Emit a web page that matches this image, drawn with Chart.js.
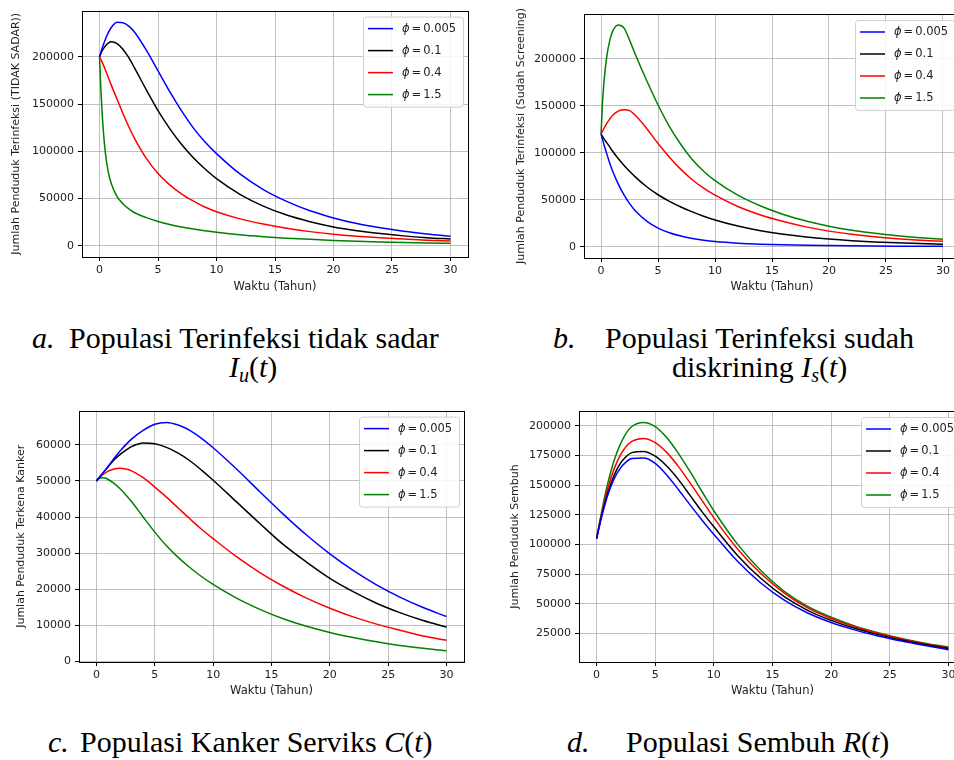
<!DOCTYPE html>
<html>
<head>
<meta charset="utf-8">
<script src="https://cdn.jsdelivr.net/npm/chart.js@4.4.1/dist/chart.umd.min.js"></script>
<style>
  body { margin: 0; width: 954px; height: 760px; overflow: hidden; background: #fff; position: relative; }
  canvas { position: absolute; }
  .cap { position: absolute; font-family: 'Liberation Serif', serif; font-size: 30px; line-height: 1; color: #000; white-space: nowrap; }
  .cap sub { font-size: 20px; vertical-align: -0.25em; line-height: 0; }
</style>
</head>
<body>
<canvas id="pa" width="480" height="300" style="left:0;top:0"></canvas>
<canvas id="pb" width="500" height="300" style="left:477px;top:0"></canvas>
<canvas id="pc" width="480" height="300" style="left:0;top:400px"></canvas>
<canvas id="pd" width="500" height="300" style="left:477px;top:400px"></canvas>

<div class="cap" style="left:32px;top:323px"><i>a.</i></div>
<div class="cap" style="left:69px;top:323px">Populasi Terinfeksi tidak sadar</div>
<div class="cap" style="left:229px;top:352px"><i>I<sub>u</sub></i>(<i>t</i>)</div>
<div class="cap" style="left:553px;top:323px"><i>b.</i></div>
<div class="cap" style="left:605px;top:323px">Populasi Terinfeksi sudah</div>
<div class="cap" style="left:672px;top:352px">diskrining <i>I<sub>s</sub></i>(<i>t</i>)</div>
<div class="cap" style="left:48px;top:727px"><i>c.</i></div>
<div class="cap" style="left:80px;top:727px">Populasi Kanker Serviks <i>C</i>(<i>t</i>)</div>
<div class="cap" style="left:567px;top:727px"><i>d.</i></div>
<div class="cap" style="left:626px;top:727px">Populasi Sembuh <i>R</i>(<i>t</i>)</div>

<script>
// waktu (tahun)
const T = [0, 0.1, 0.25, 0.5, 0.75, 1, 1.5, 2, 2.5, 3, 4, 5, 6, 7, 8, 9, 10, 12, 14, 16, 18, 20, 22, 24, 26, 28, 30];
const phiLabels = ['0.005', '0.1', '0.4', '1.5'];
const colors = ['#0000ff', '#000000', '#ff0000', '#008000'];

// a. Iu(t)
const Iu_0005 = [200000, 204000, 210000, 218500, 225500, 231000, 236500, 236000, 232500, 226000, 207000, 185000, 163000, 143000, 125000, 110000, 97500, 76000, 59500, 47000, 37000, 29500, 23500, 19000, 15300, 12400, 10000];
const Iu_01 = [200000, 203000, 207000, 211500, 214500, 215800, 214000, 208000, 199000, 188000, 165000, 143000, 124000, 107500, 93500, 81500, 71000, 54500, 42000, 32500, 25500, 20000, 16000, 13000, 10500, 8600, 7200];
const Iu_04 = [200000, 197500, 193500, 186000, 178000, 170000, 155000, 140000, 126000, 113500, 92500, 76500, 64500, 55000, 47500, 41000, 36000, 28500, 23000, 18500, 15000, 12300, 10200, 8500, 7200, 6000, 5000];
const Iu_15 = [200000, 170000, 135000, 98000, 78000, 66000, 52000, 44500, 39000, 35000, 29800, 25800, 22600, 20000, 17800, 16000, 14400, 11700, 9700, 8100, 6800, 5700, 4800, 4100, 3500, 3000, 2600];

// b. Is(t)
const Is_0005 = [120000, 115500, 109000, 99000, 89500, 81000, 67000, 55500, 46000, 38500, 27500, 20000, 15000, 11500, 9000, 7200, 5800, 4000, 2900, 2200, 1700, 1400, 1150, 950, 800, 680, 580];
const Is_01 = [120000, 118000, 115000, 111000, 106500, 102000, 94000, 87000, 80500, 74500, 64000, 55500, 48500, 42500, 37300, 32700, 28700, 22200, 17200, 13400, 10500, 8300, 6600, 5300, 4300, 3500, 2900];
const Is_04 = [120000, 122500, 126000, 131500, 136000, 139800, 144500, 146000, 145000, 140000, 126000, 110000, 95500, 82500, 71500, 62500, 55000, 43000, 34000, 27000, 21300, 16800, 13400, 10800, 8800, 7200, 6000];
const Is_15 = [120000, 148000, 175000, 203000, 219000, 229000, 236000, 233000, 220000, 205000, 177000, 151000, 128000, 109000, 93000, 80500, 70500, 55000, 43500, 34500, 27500, 22000, 17800, 14500, 11900, 9800, 8100];

// c. C(t)
const C_0005 = [50000, 50400, 51000, 52000, 53000, 54000, 56200, 58200, 60000, 61600, 64000, 65700, 66200, 65500, 64000, 61800, 59200, 53300, 47000, 40800, 35000, 29800, 25200, 21200, 17800, 14900, 12400];
const C_01 = [50000, 50400, 51000, 52000, 53000, 54000, 55800, 57300, 58500, 59500, 60500, 60300, 59300, 57700, 55600, 53000, 50200, 44200, 38200, 32400, 27500, 23000, 19300, 16100, 13500, 11300, 9500];
const C_04 = [50000, 50350, 50900, 51600, 52200, 52700, 53300, 53500, 53300, 52800, 50900, 48300, 45500, 42500, 39500, 36600, 34000, 29000, 24600, 20800, 17500, 14700, 12300, 10300, 8600, 7000, 5800];
const C_15 = [50000, 50350, 50700, 50900, 50800, 50400, 49300, 47900, 46200, 44300, 40000, 35800, 32000, 28800, 26000, 23500, 21300, 17500, 14400, 11800, 9700, 8000, 6600, 5400, 4400, 3600, 2900];

// d. R(t)
const R_0005 = [105000, 109500, 116000, 126000, 135000, 143000, 155500, 164000, 169500, 172500, 173000, 168500, 158500, 146000, 133000, 120500, 108500, 86000, 67500, 53000, 42200, 34200, 28000, 22900, 18600, 14800, 11300];
const R_01 = [105000, 109700, 116500, 127000, 136500, 145000, 158500, 168000, 174000, 177500, 178500, 174500, 166000, 154500, 141000, 127500, 115000, 91000, 71500, 56000, 44500, 36000, 29400, 24000, 19500, 15600, 12200];
const R_04 = [105000, 110000, 117500, 129000, 139500, 149000, 164000, 175000, 182500, 187000, 189500, 186000, 177500, 165500, 151500, 137000, 122500, 96500, 75500, 59000, 46500, 37600, 30600, 25000, 20300, 16300, 12900];
const R_15 = [105000, 110500, 118500, 131000, 143000, 153500, 171000, 184000, 193500, 199500, 203000, 199500, 190000, 176500, 161000, 144500, 128500, 100500, 78000, 60500, 47700, 38600, 31400, 25600, 20800, 16800, 13500];

const xTicks = [0, 5, 10, 15, 20, 25, 30];
const yTicksA = [0, 50000, 100000, 150000, 200000];
const yTicksB = [0, 50000, 100000, 150000, 200000];
const yTicksC = [0, 10000, 20000, 30000, 40000, 50000, 60000];
const yTicksD = [25000, 50000, 75000, 100000, 125000, 150000, 175000, 200000];

const FONT = 'DejaVu Sans';

// kotak hitam di sekeliling area plot + legenda gaya matplotlib
const framePlugin = {
  id: 'frame',
  afterDraw(chart) {
    const {ctx, chartArea: a} = chart;
    ctx.save();
    ctx.strokeStyle = '#000';
    ctx.lineWidth = 1;
    ctx.strokeRect(Math.round(a.left) + 0.5, Math.round(a.top) + 0.5, Math.round(a.right - a.left), Math.round(a.bottom - a.top));

    // legend
    const bw = 100, bh = 90;
    const bx = a.right - 5 - bw, by = a.top + 6;
    ctx.fillStyle = 'rgba(255,255,255,0.85)';
    ctx.strokeStyle = '#d0d0d0';
    ctx.beginPath();
    ctx.roundRect(bx + 0.5, by + 0.5, bw, bh, 3);
    ctx.fill();
    ctx.stroke();
    chart.data.datasets.forEach((ds, i) => {
      const y = by + 12 + i * 22;
      ctx.strokeStyle = ds.borderColor;
      ctx.lineWidth = 1.5;
      ctx.beginPath();
      ctx.moveTo(bx + 5, y);
      ctx.lineTo(bx + 30, y);
      ctx.stroke();
      ctx.fillStyle = '#222';
      ctx.textBaseline = 'middle';
      ctx.font = 'italic 11.5px "' + FONT + '"';
      let x = bx + 39;
      ctx.fillText('\u03d5', x, y);
      x += ctx.measureText('\u03d5').width + 2;
      ctx.font = '11.5px "' + FONT + '"';
      ctx.fillText('=', x, y);
      x += ctx.measureText('=').width + 2;
      ctx.fillText(ds.phi, x, y);
    });
    ctx.restore();
  }
};

function makeChart(id, series, yTicks, yMin, yMax, yTitle, box) {
  const datasets = series.map((arr, i) => ({
    label: '\u03d5=' + phiLabels[i],
    phi: phiLabels[i],
    data: T.map((t, k) => ({x: t, y: arr[k]})),
    borderColor: colors[i],
    borderWidth: 1.5,
    pointRadius: 0,
    fill: false,
    cubicInterpolationMode: 'monotone'
  }));
  const tickFont = {family: FONT, size: 11};
  new Chart(document.getElementById(id), {
    type: 'line',
    data: {datasets},
    plugins: [framePlugin],
    options: {
      responsive: false,
      animation: false,
      devicePixelRatio: 1,
      layout: {padding: {left: 0, top: box.top, right: box.right, bottom: 0}},
      plugins: {legend: {display: false}, tooltip: {enabled: false}},
      scales: {
        x: {
          type: 'linear', min: -1.5, max: 31.5,
          afterBuildTicks: s => { s.ticks = xTicks.map(v => ({value: v})); },
          afterFit: s => { s.height = box.xh; },
          ticks: {font: tickFont, color: '#222', padding: 3, maxRotation: 0, callback: v => String(v)},
          grid: {color: '#b0b0b0', lineWidth: 0.8, tickLength: 4, tickColor: '#000', tickWidth: 1},
          border: {display: false},
          title: {display: true, text: 'Waktu (Tahun)', font: {family: FONT, size: 11.5}, color: '#222', padding: {top: 0, bottom: box.xtp}}
        },
        y: {
          type: 'linear', min: yMin, max: yMax,
          afterBuildTicks: s => { s.ticks = yTicks.map(v => ({value: v})); },
          afterFit: s => { s.width = box.yw; },
          ticks: {font: tickFont, color: '#222', padding: 4, callback: v => String(v)},
          grid: {color: '#b0b0b0', lineWidth: 0.8, tickLength: 4, tickColor: '#000', tickWidth: 1},
          border: {display: false},
          title: {display: true, text: yTitle, font: {family: FONT, size: 11}, color: '#222', padding: {top: box.ytp, bottom: 0}}
        }
      }
    }
  });
}

makeChart('pa', [Iu_0005, Iu_01, Iu_04, Iu_15], yTicksA, -11850, 248850,
  'Jumlah Penduduk Terinfeksi (TIDAK SADAR))', {top: 6, right: 12, yw: 82, xh: 43, ytp: 10, xtp: 6});
makeChart('pb', [Is_0005, Is_01, Is_04, Is_15], yTicksB, -11800, 247800,
  'Jumlah Penduduk Terinfeksi (Sudah Screening)', {top: 14, right: 17, yw: 107, xh: 42, ytp: 38, xtp: 6});
makeChart('pc', [C_0005, C_01, C_04, C_15], yTicksC, -200, 69500,
  'Jumlah Penduduk Terkena Kanker', {top: 10, right: 16, yw: 79, xh: 38, ytp: 15, xtp: 2});
makeChart('pd', [R_0005, R_01, R_04, R_15], yTicksD, 900, 212600,
  'Jumlah Penduduk Sembuh', {top: 11, right: 11, yw: 102, xh: 38, ytp: 32, xtp: 2});
</script>
</body>
</html>
